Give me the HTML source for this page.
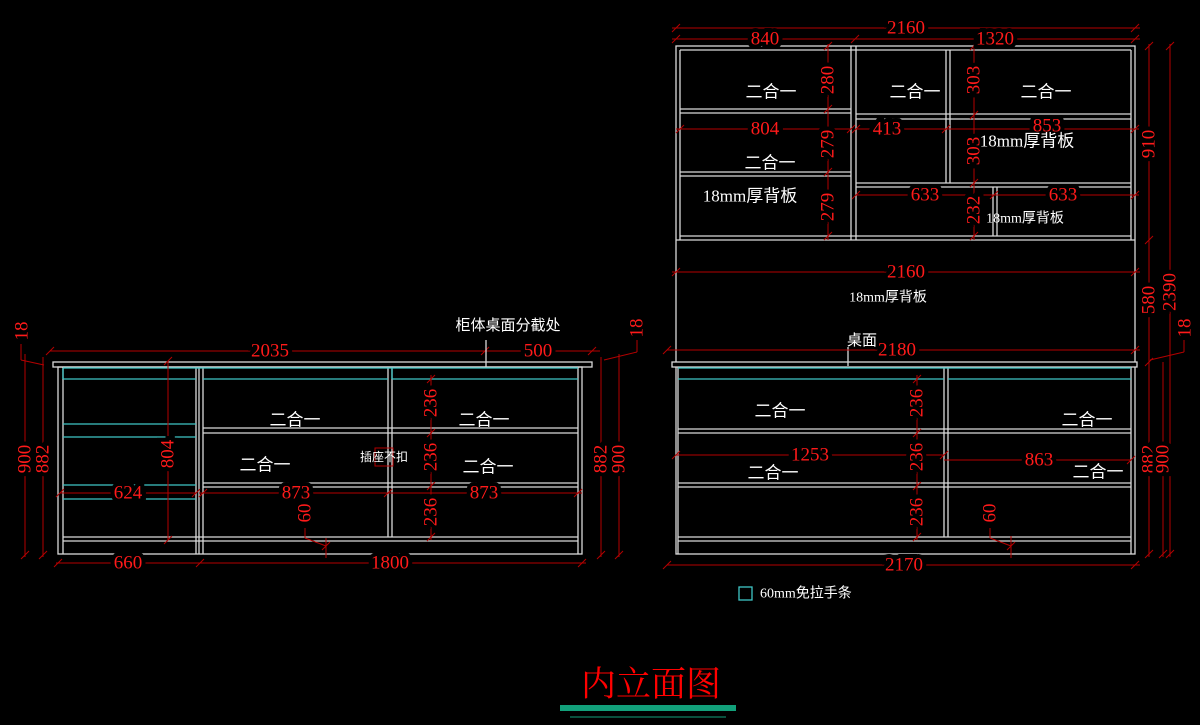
<!DOCTYPE html>
<html><head><meta charset="utf-8"><style>
html,body{margin:0;padding:0;background:#000;}
svg{display:block}
.w{stroke:#d9d9d9;stroke-width:1.3;fill:none}
.c{stroke:#3fc6c6;stroke-width:1.3;fill:none}
.d{stroke:#b40000;stroke-width:1;fill:none}
.t{fill:#ff1a1a;font-family:"Liberation Serif","Noto Serif CJK SC",serif;font-size:19px;text-anchor:middle;dominant-baseline:central;paint-order:stroke;stroke:#000;stroke-width:8px}
.l{fill:#fff;font-family:"Liberation Serif","Noto Sans CJK SC",sans-serif;font-size:17px;text-anchor:middle;dominant-baseline:central}
.s{font-size:14px}
</style></head><body>
<svg width="1200" height="725" viewBox="0 0 1200 725" xmlns="http://www.w3.org/2000/svg">
<!-- ========== LEFT CABINET ========== -->
<g class="w">
<rect x="53" y="362" width="539" height="5"/>
<rect x="58" y="367" width="524" height="187"/>
<line x1="63" y1="367" x2="63" y2="554"/>
<line x1="578" y1="367" x2="578" y2="554"/>
<line x1="196" y1="367" x2="196" y2="554"/>
<line x1="199" y1="367" x2="199" y2="554"/>
<line x1="203" y1="367" x2="203" y2="554"/>
<line x1="388" y1="367" x2="388" y2="537"/>
<line x1="392" y1="367" x2="392" y2="537"/>
<line x1="63" y1="537" x2="578" y2="537"/>
<line x1="63" y1="541" x2="578" y2="541"/>
<line x1="203" y1="428" x2="578" y2="428"/>
<line x1="203" y1="433" x2="578" y2="433"/>
<line x1="203" y1="483" x2="578" y2="483"/>
<line x1="203" y1="487" x2="578" y2="487"/>
</g>
<g class="c">
<line x1="63" y1="368" x2="578" y2="368"/>
<line x1="63" y1="379" x2="196" y2="379"/>
<line x1="203" y1="379" x2="388" y2="379"/>
<line x1="392" y1="379" x2="578" y2="379"/>
<line x1="63" y1="424" x2="196" y2="424"/>
<line x1="63" y1="437" x2="196" y2="437"/>
<line x1="63" y1="485" x2="196" y2="485"/>
<line x1="63" y1="499" x2="196" y2="499"/>
<line x1="63" y1="368" x2="63" y2="379"/>
<line x1="392" y1="368" x2="392" y2="379"/>
</g>
<!-- left dims -->
<g class="d">
<line x1="50" y1="351" x2="600" y2="351"/>
<line x1="56" y1="563" x2="586" y2="563"/>
<line x1="25" y1="354" x2="25" y2="557"/>
<line x1="43" y1="357" x2="43" y2="557"/>
<line x1="601" y1="357" x2="601" y2="557"/>
<line x1="619" y1="354" x2="619" y2="557"/>
<line x1="21" y1="344" x2="21" y2="360"/><line x1="21" y1="360" x2="44" y2="365"/>
<line x1="637" y1="340" x2="637" y2="352"/><line x1="637" y1="352" x2="604" y2="360"/>
<line x1="168" y1="361" x2="168" y2="540"/>
<line x1="60" y1="493" x2="196" y2="493"/>
<line x1="199" y1="493" x2="582" y2="493"/>
<line x1="431" y1="375" x2="431" y2="540"/>
<line x1="305" y1="528" x2="305" y2="538"/><line x1="305" y1="538" x2="326" y2="546"/>
<line x1="326" y1="538" x2="326" y2="558"/>
<line x1="486" y1="345" x2="486" y2="356"/>
<rect x="375" y="448" width="18" height="18"/>
</g>
<g class="d" stroke-width="1">
<path d="M46 355l8-8M196 567l8-8M578 567l8-8M54 567l8-8M481 355l8-8M588 355l8-8M21 559l8-8M39 559l8-8M597 559l8-8M615 559l8-8M164 544l8-8M164 365l8-8M427 383l8-8M427 437l8-8M427 490l8-8M427 541l8-8M56 497l8-8M192 497l8-8M199 497l8-8M384 497l8-8M574 497l8-8M322 550l8-8"/>
</g>
<text class="t" x="270" y="351">2035</text>
<text class="t" x="538" y="351">500</text>
<text class="t" x="128" y="563">660</text>
<text class="t" x="390" y="563">1800</text>
<text class="t" x="128" y="493">624</text>
<text class="t" x="296" y="493">873</text>
<text class="t" x="484" y="493">873</text>
<text class="t" transform="translate(25,459) rotate(-90)">900</text>
<text class="t" transform="translate(43,459) rotate(-90)">882</text>
<text class="t" transform="translate(601,459) rotate(-90)">882</text>
<text class="t" transform="translate(619,459) rotate(-90)">900</text>
<text class="t" transform="translate(22,331) rotate(-90)">18</text>
<text class="t" transform="translate(637,328) rotate(-90)">18</text>
<text class="t" transform="translate(168,454) rotate(-90)">804</text>
<text class="t" transform="translate(431,403) rotate(-90)">236</text>
<text class="t" transform="translate(431,457) rotate(-90)">236</text>
<text class="t" transform="translate(431,512) rotate(-90)">236</text>
<text class="t" transform="translate(305,513) rotate(-90)">60</text>
<text class="l" x="295" y="420">二合一</text>
<text class="l" x="265" y="465">二合一</text>
<text class="l" x="484" y="420">二合一</text>
<text class="l" x="488" y="467">二合一</text>
<text class="l s" x="384" y="457" style="font-size:12px">插座不扣</text>
<text class="l s" x="508" y="326" style="font-size:15px">柜体桌面分截处</text>
<line x1="486" y1="340" x2="486" y2="367" class="w"/>

<!-- ========== RIGHT CABINET ========== -->
<g class="w">
<rect x="676" y="46" width="459" height="508"/>
<line x1="680" y1="50" x2="1131" y2="50"/>
<line x1="680" y1="50" x2="680" y2="240"/>
<line x1="1131" y1="50" x2="1131" y2="240"/>
<line x1="851" y1="46" x2="851" y2="240"/>
<line x1="856" y1="46" x2="856" y2="240"/>
<line x1="676" y1="240" x2="1135" y2="240"/>
<line x1="680" y1="236" x2="1131" y2="236"/>
<line x1="680" y1="109" x2="851" y2="109"/>
<line x1="680" y1="113" x2="851" y2="113"/>
<line x1="680" y1="172" x2="851" y2="172"/>
<line x1="680" y1="176" x2="851" y2="176"/>
<line x1="946" y1="50" x2="946" y2="183"/>
<line x1="950" y1="50" x2="950" y2="183"/>
<line x1="856" y1="114" x2="1131" y2="114"/>
<line x1="856" y1="119" x2="1131" y2="119"/>
<line x1="856" y1="183" x2="1131" y2="183"/>
<line x1="856" y1="187" x2="1131" y2="187"/>
<line x1="993" y1="187" x2="993" y2="236"/>
<line x1="997" y1="187" x2="997" y2="236"/>
<rect x="672" y="362" width="465" height="5" fill="#000"/>
<line x1="678" y1="367" x2="678" y2="554"/>
<line x1="1131" y1="367" x2="1131" y2="554"/>
<line x1="944" y1="367" x2="944" y2="537"/>
<line x1="948" y1="367" x2="948" y2="537"/>
<line x1="678" y1="429" x2="1131" y2="429"/>
<line x1="678" y1="433" x2="1131" y2="433"/>
<line x1="678" y1="483" x2="1131" y2="483"/>
<line x1="678" y1="487" x2="1131" y2="487"/>
<line x1="678" y1="537" x2="1131" y2="537"/>
<line x1="678" y1="541" x2="1131" y2="541"/>
<line x1="848" y1="347" x2="848" y2="366"/>
</g>
<g class="c">
<line x1="678" y1="368" x2="1131" y2="368"/>
<line x1="678" y1="379" x2="944" y2="379"/>
<line x1="948" y1="379" x2="1131" y2="379"/>
<rect x="739" y="587" width="13" height="13"/>
</g>
<g class="d">
<line x1="672" y1="28" x2="1140" y2="28"/>
<line x1="672" y1="39" x2="1140" y2="39"/>
<line x1="676" y1="129" x2="851" y2="129"/>
<line x1="856" y1="129" x2="1139" y2="129"/>
<line x1="856" y1="195" x2="1139" y2="195"/>
<line x1="672" y1="272" x2="1140" y2="272"/>
<line x1="667" y1="350" x2="1140" y2="350"/>
<line x1="667" y1="565" x2="1140" y2="565"/>
<line x1="676" y1="455" x2="944" y2="455"/>
<line x1="944" y1="460" x2="1131" y2="460"/>
<line x1="828" y1="44" x2="828" y2="240"/>
<line x1="974" y1="44" x2="974" y2="240"/>
<line x1="917" y1="375" x2="917" y2="540"/>
<line x1="990" y1="528" x2="990" y2="538"/><line x1="990" y1="538" x2="1011" y2="546"/>
<line x1="1011" y1="536" x2="1011" y2="558"/>
<line x1="1149" y1="44" x2="1149" y2="557"/>
<line x1="1163" y1="362" x2="1163" y2="557"/>
<line x1="1170" y1="44" x2="1170" y2="557"/>
<line x1="1184" y1="340" x2="1184" y2="352"/><line x1="1184" y1="352" x2="1150" y2="360"/>
</g>
<g class="d">
<path d="M672 32l8-8M851 43l8-8M1131 32l8-8M1131 43l8-8M672 43l8-8M1145 50l8-8M1166 50l8-8M1145 244l8-8M1145 366l8-8M1145 558l8-8M1159 558l8-8M1166 558l8-8M672 276l8-8M1131 276l8-8M663 354l8-8M1131 354l8-8M663 569l8-8M1131 569l8-8M824 113l8-8M824 176l8-8M824 240l8-8M824 50l8-8M970 50l8-8M970 119l8-8M970 187l8-8M970 240l8-8M913 383l8-8M913 437l8-8M913 490l8-8M913 541l8-8M672 459l8-8M940 459l8-8M1127 464l8-8M676 133l8-8M847 133l8-8M852 133l8-8M942 133l8-8M1131 133l8-8M852 199l8-8M990 199l8-8M1131 199l8-8M1007 550l8-8"/>
</g>
<text class="t" x="906" y="28">2160</text>
<text class="t" x="765" y="39">840</text>
<text class="t" x="995" y="39">1320</text>
<text class="t" x="765" y="129">804</text>
<text class="t" x="887" y="129">413</text>
<text class="t" x="1047" y="126">853</text>
<text class="t" x="925" y="195">633</text>
<text class="t" x="1063" y="195">633</text>
<text class="t" x="906" y="272">2160</text>
<text class="t" x="897" y="350">2180</text>
<text class="t" x="904" y="565">2170</text>
<text class="t" x="810" y="455">1253</text>
<text class="t" x="1039" y="460">863</text>
<text class="t" transform="translate(828,80) rotate(-90)">280</text>
<text class="t" transform="translate(828,144) rotate(-90)">279</text>
<text class="t" transform="translate(828,207) rotate(-90)">279</text>
<text class="t" transform="translate(974,80) rotate(-90)">303</text>
<text class="t" transform="translate(974,151) rotate(-90)">303</text>
<text class="t" transform="translate(974,210) rotate(-90)">232</text>
<text class="t" transform="translate(917,403) rotate(-90)">236</text>
<text class="t" transform="translate(917,457) rotate(-90)">236</text>
<text class="t" transform="translate(917,512) rotate(-90)">236</text>
<text class="t" transform="translate(990,513) rotate(-90)">60</text>
<text class="t" transform="translate(1149,144) rotate(-90)">910</text>
<text class="t" transform="translate(1149,300) rotate(-90)">580</text>
<text class="t" transform="translate(1170,292) rotate(-90)">2390</text>
<text class="t" transform="translate(1185,328) rotate(-90)">18</text>
<text class="t" transform="translate(1149,459) rotate(-90)">882</text>
<text class="t" transform="translate(1163,459) rotate(-90)">900</text>
<text class="l" x="771" y="92">二合一</text>
<text class="l" x="915" y="92">二合一</text>
<text class="l" x="1046" y="92">二合一</text>
<text class="l" x="770" y="163">二合一</text>
<text class="l" x="750" y="196">18mm厚背板</text>
<text class="l" x="1027" y="141">18mm厚背板</text>
<text class="l s" x="1025" y="219">18mm厚背板</text>
<text class="l s" x="888" y="298">18mm厚背板</text>
<text class="l s" x="862" y="341" style="font-size:15px">桌面</text>
<text class="l" x="780" y="411">二合一</text>
<text class="l" x="1087" y="420">二合一</text>
<text class="l" x="773" y="473">二合一</text>
<text class="l" x="1098" y="472">二合一</text>
<text class="l s" x="760" y="594" style="text-anchor:start;font-size:14px">60mm免拉手条</text>

<!-- title -->
<text x="651" y="682" style="fill:#ff0000;font-family:'Noto Serif CJK SC',serif;font-size:35px;text-anchor:middle;dominant-baseline:central">内立面图</text>
<rect x="560" y="705" width="176" height="6" fill="#12a07a"/>
<line x1="570" y1="717" x2="726" y2="717" stroke="#12a07a" stroke-width="1"/>
</svg>
</body></html>
